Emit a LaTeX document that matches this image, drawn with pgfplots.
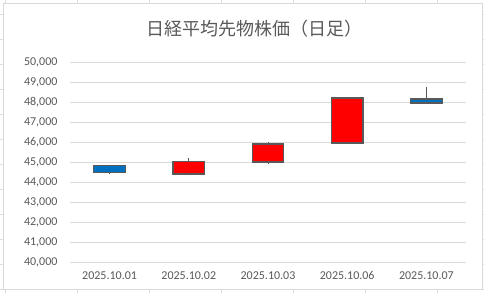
\documentclass[border=0pt]{standalone}
\usepackage{pgfplots}
\pgfplotsset{compat=1.18}
\usepackage{pgfplotstable}
\usepackage{fontspec}
\setmainfont{Carlito}
\newfontfamily\jp{Noto Sans CJK JP}
\definecolor{txt}{HTML}{595959}
\definecolor{gridc}{HTML}{D9D9D9}
\definecolor{sheet}{HTML}{DCDCDC}
\definecolor{upc}{HTML}{FF0000}
\definecolor{downc}{HTML}{0070C0}
\definecolor{edge}{HTML}{595959}

% daily OHLC, x = category index
\pgfplotstableread{
x open high low close
1 44815 44865 44400 44480
2 44400 45215 44330 45035
3 45000 46000 44900 45900
4 45950 48265 45930 48200
5 48150 48750 47950 47950
}\ohlc
% rising days (close > open): body from open to close
\pgfplotstableread{
x lo hi
2 44400 45035
3 45000 45900
4 45950 48200
}\upbody
% falling days (close < open): body from close to open
\pgfplotstableread{
x lo hi
1 44480 44815
5 47950 48150
}\downbody

\pgfplotsset{
  frame/.style={at={(70pt,31pt)}, anchor=south west,
    scale only axis, width=396pt, height=200pt,
    xmin=0.5, xmax=5.5, ymin=40000, ymax=50000, clip=true},
  base/.style={ybar stacked, bar shift=0pt, bar width=0.4, draw=none, fill=none},
  body/.style={ybar stacked, bar shift=0pt, bar width=0.4, draw=edge, fill=#1, line width=1.3pt},
}

\begin{document}
\begin{tikzpicture}
\begin{scope}[x=1pt,y=1pt]
\useasboundingbox (0,0) rectangle (484,293);
% spreadsheet cell grid behind the chart
\foreach \xx in {5,77,149,221,293,365,437}{
  \draw[sheet, line width=0.8pt] (\xx,0) -- (\xx,293);
}
\foreach \yy in {14,39,64,89,114,139,164,189,214,239,264,289}{
  \draw[sheet, line width=0.8pt] (0,293-\yy) -- (484,293-\yy);
}
% chart area
\draw[gridc, fill=white, line width=1pt] (3.5,3.5) rectangle (482.5,289.5);
\node[text=txt, font=\jp\fontsize{18}{20}\selectfont] at (254,264.5) {日経平均先物株価（日足）};
\end{scope}
% axis, grid and wicks
\begin{axis}[frame,
  ytick distance=1000,
  xtick={1,2,3,4,5},
  xticklabels={2025.10.01,2025.10.02,2025.10.03,2025.10.06,2025.10.07},
  ymajorgrids, major grid style={gridc, line width=1pt},
  axis line style={draw=none},
  major tick length=0pt,
  tick label style={font=\fontsize{12}{14}\selectfont, text=txt},
  scaled y ticks=false,
  /pgf/number format/assume math mode=true,
  yticklabel style={/pgf/number format/fixed, /pgf/number format/1000 sep={,}, xshift=-9pt},
  xticklabel style={yshift=-6pt},
]
\addplot[draw=none, mark=none,
  error bars/.cd, y dir=both, y explicit,
  error mark=none, error bar style={draw=edge, line width=1pt}]
  table[x=x, y=low, y error plus expr=\thisrow{high}-\thisrow{low}, y error minus expr=0]{\ohlc};
\end{axis}
% rising bodies
\begin{axis}[frame, hide axis]
\addplot[base] table[x=x, y=lo]{\upbody};
\addplot[body=upc] table[x=x, y expr=\thisrow{hi}-\thisrow{lo}]{\upbody};
\end{axis}
% falling bodies
\begin{axis}[frame, hide axis]
\addplot[base] table[x=x, y=lo]{\downbody};
\addplot[body=downc] table[x=x, y expr=\thisrow{hi}-\thisrow{lo}]{\downbody};
\end{axis}
\end{tikzpicture}
\end{document}
